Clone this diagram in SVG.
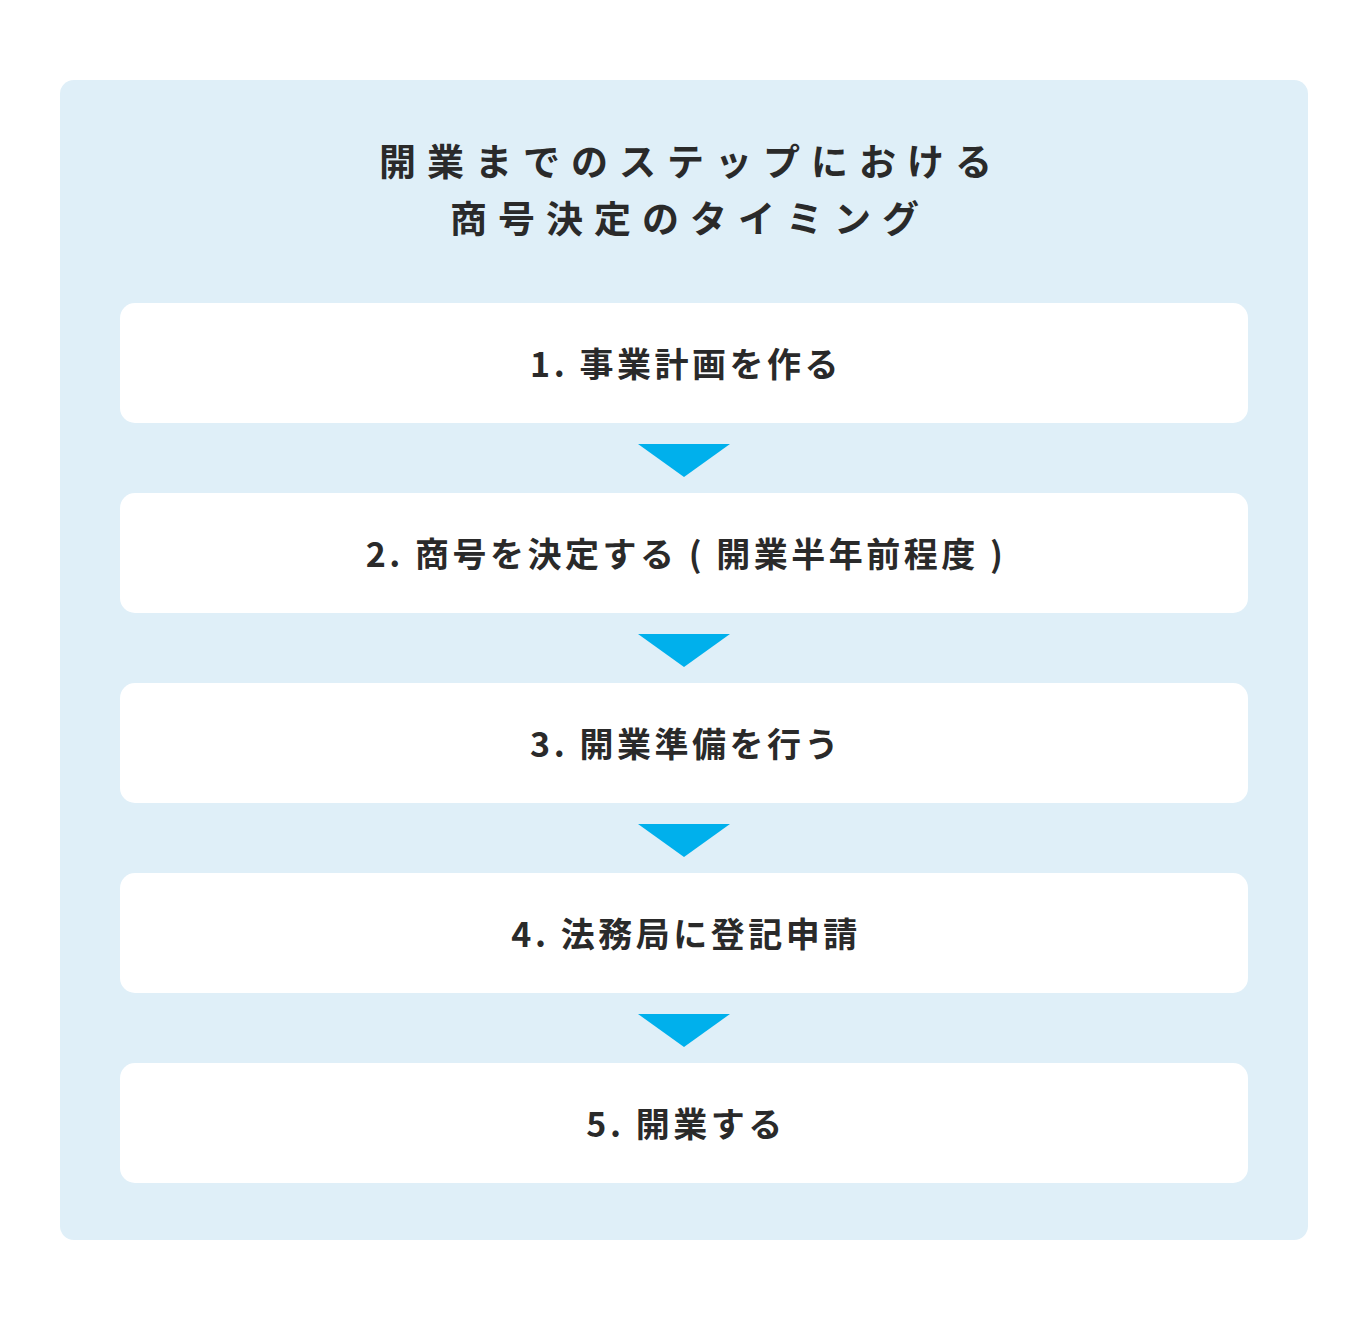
<svg xmlns="http://www.w3.org/2000/svg" width="1368" height="1320" viewBox="0 0 1368 1320">
<style>
.title{font-family:"Noto Sans CJK JP","Noto Sans",sans-serif;font-weight:700;font-size:37px;fill:#2a2a2a;letter-spacing:11px;text-anchor:middle}
.box{fill:#ffffff}
.lbl{font-family:"Noto Sans CJK JP","Noto Sans",sans-serif;font-weight:700;font-size:34px;fill:#2a2a2a;letter-spacing:3.5px;text-anchor:middle}
.arr{fill:#00b0ec}
</style>
<rect x="0" y="0" width="1368" height="1320" fill="#ffffff"/>
<rect x="60" y="80" width="1248" height="1160" rx="14" fill="#dfeff8"/>
<g id="title">
<text class="title" x="691" y="176">開業までのステップにおける</text>
<text class="title" x="690" y="233">商号決定のタイミング</text>
</g>
<g id="step1"><rect class="box" x="120" y="303" width="1128" height="120" rx="15"/><text class="lbl" x="686" y="377">1. 事業計画を作る</text></g>
<g id="step2"><rect class="box" x="120" y="493" width="1128" height="120" rx="15"/><text class="lbl" x="686" y="567">2. 商号を決定する ( 開業半年前程度 )</text></g>
<g id="step3"><rect class="box" x="120" y="683" width="1128" height="120" rx="15"/><text class="lbl" x="686" y="757">3. 開業準備を行う</text></g>
<g id="step4"><rect class="box" x="120" y="873" width="1128" height="120" rx="15"/><text class="lbl" x="686" y="947">4. 法務局に登記申請</text></g>
<g id="step5"><rect class="box" x="120" y="1063" width="1128" height="120" rx="15"/><text class="lbl" x="686" y="1137">5. 開業する</text></g>
<g id="connectors">
<polygon class="arr" points="638,444 730,444 684,477"/>
<polygon class="arr" points="638,634 730,634 684,667"/>
<polygon class="arr" points="638,824 730,824 684,857"/>
<polygon class="arr" points="638,1014 730,1014 684,1047"/>
</g>
</svg>
